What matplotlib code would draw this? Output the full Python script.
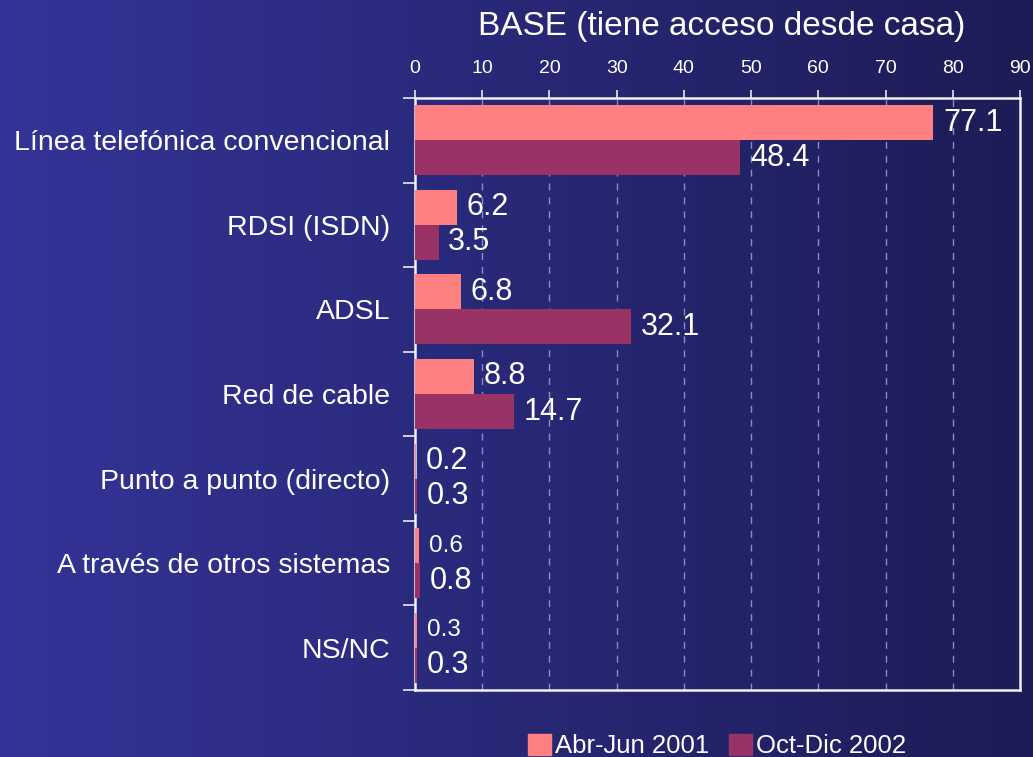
import numpy as np
import matplotlib.pyplot as plt
from matplotlib.patches import Patch

categorias = ['Línea telefónica convencional', 'RDSI (ISDN)', 'ADSL', 'Red de cable',
              'Punto a punto (directo)', 'A través de otros sistemas', 'NS/NC']
abr_jun_2001 = [77.1, 6.2, 6.8, 8.8, 0.2, 0.6, 0.3]
oct_dic_2002 = [48.4, 3.5, 32.1, 14.7, 0.3, 0.8, 0.3]
series_labels = ['Abr-Jun 2001', 'Oct-Dic 2002']
# etiquetas que en el original salen con letra mas pequeña
small_abr = [False, False, False, False, False, True, True]

ROSA = '#FF8080'
MORADO = '#993366'

plt.rcParams['font.family'] = ['Liberation Sans', 'DejaVu Sans']

fig = plt.figure(figsize=(10.33, 7.57), dpi=100)

# fondo degradado
bg = fig.add_axes([0, 0, 1, 1], zorder=-10)
grad = np.linspace(0, 1, 256).reshape(1, -1)
c1 = np.array([0x34, 0x34, 0x98]) / 255.
c2 = np.array([0x1c, 0x1c, 0x56]) / 255.
img = c1[None, None, :] * (1 - grad[..., None]) + c2[None, None, :] * grad[..., None]
bg.imshow(img, aspect='auto', extent=[0, 1, 0, 1])
bg.axis('off')

ax = fig.add_axes([415 / 1033, 1 - 690 / 757, 605 / 1033, 592 / 757])
ax.patch.set_alpha(0)

y = np.arange(len(categorias))
h = 0.414
ax.barh(y - h / 2, abr_jun_2001, height=h, color=ROSA, label=series_labels[0], zorder=3)
ax.barh(y + h / 2, oct_dic_2002, height=h, color=MORADO, label=series_labels[1], zorder=3)

for i in range(len(categorias)):
    ax.annotate(f'{abr_jun_2001[i]:.1f}', (abr_jun_2001[i], y[i] - h / 2),
                xytext=(7, 0), textcoords='offset points', va='center', ha='left',
                color='white', fontsize=17.5 if small_abr[i] else 22, zorder=4)
    ax.annotate(f'{oct_dic_2002[i]:.1f}', (oct_dic_2002[i], y[i] + h / 2),
                xytext=(7, 0), textcoords='offset points', va='center', ha='left',
                color='white', fontsize=22, zorder=4)

ax.set_xlim(0, 90)
ax.set_ylim(len(categorias) - 0.5, -0.5)
ax.set_xticks(np.arange(0, 91, 10))
ax.xaxis.tick_top()
ax.tick_params(axis='x', colors='#e8e8f4', labelcolor='white', labelsize=14,
               length=6, width=1.2, pad=9, direction='out')
for lbl in ax.get_xticklabels():
    lbl.set_family(['Liberation Sans Narrow', 'Liberation Sans'])

ax.set_yticks(y)
ax.set_yticklabels(categorias, fontsize=20.5, color='white')
ax.set_yticks(np.arange(-0.5, len(categorias), 1), minor=True)
ax.tick_params(axis='y', which='major', length=0, pad=18)
ax.tick_params(axis='y', which='minor', length=9, width=1.2, colors='#e8e8f4')

for x in range(10, 90, 10):
    ax.axvline(x, color='#8a8ad0', lw=1, ls=(0, (5, 5)), zorder=1)

for s in ax.spines.values():
    s.set_color('#f0f0f8')
    s.set_linewidth(1.8)

fig.text(722 / 1033, 1 - 26 / 757, 'BASE (tiene acceso desde casa)', color='white',
         fontsize=24, ha='center', va='center')

handles = [Patch(color=ROSA, label=series_labels[0]), Patch(color=MORADO, label=series_labels[1])]
fig.legend(handles=handles, loc='lower center', bbox_to_anchor=(717 / 1033, -0.032),
           ncol=2, frameon=False, fontsize=18.5, labelcolor='white',
           handlelength=0.9, handleheight=0.9, handletextpad=0.15, columnspacing=0.8)

fig.savefig('out.png', dpi=100)
